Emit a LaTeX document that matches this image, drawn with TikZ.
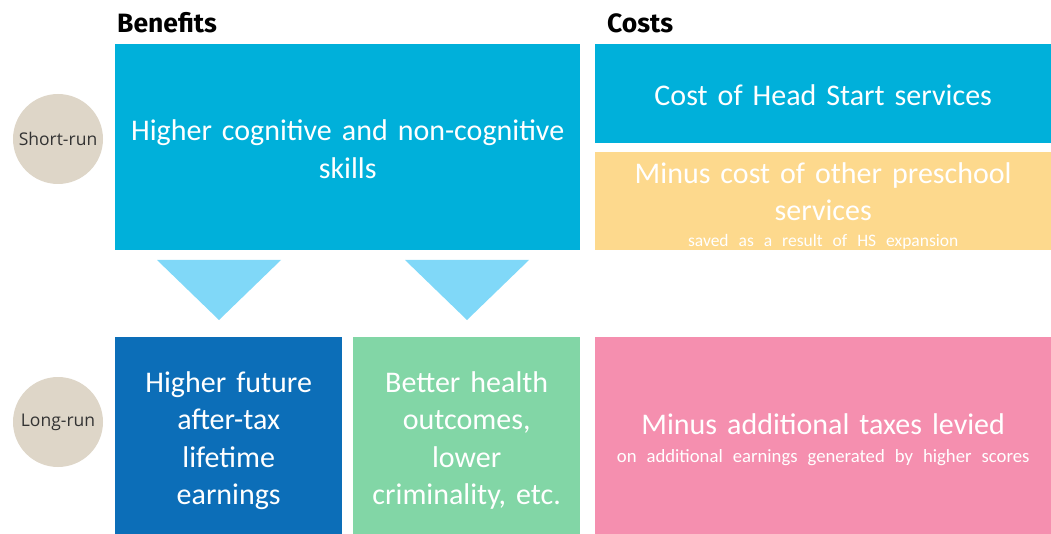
\documentclass[tikz,border=0pt]{standalone}
\usepackage{fontspec}
\setmainfont{Carlito}
\newfontfamily\headfont{Fira Sans}
\newfontfamily\circfont{Open Sans}
\definecolor{cyanbox}{HTML}{00B0DA}
\definecolor{yellowbox}{HTML}{FDD98D}
\definecolor{darkblue}{HTML}{0C6EB8}
\definecolor{greenbox}{HTML}{82D6A6}
\definecolor{pinkbox}{HTML}{F58FAF}
\definecolor{tri}{HTML}{80D8F8}
\definecolor{circ}{HTML}{DED6C8}
\definecolor{circtext}{HTML}{333333}
\tikzset{
  box/.style={anchor=north west, inner sep=0pt},
  boxtext/.style={inner sep=0pt, text=white, align=center,
    font=\fontsize{30}{37.5}\selectfont},
  head/.style={anchor=base west, inner sep=0pt, font=\headfont\bfseries\fontsize{26.5}{30}\selectfont},
  runcirc/.style={circle, fill=circ, minimum size=90pt, inner sep=0pt, text=circtext,
    font=\circfont\fontsize{17.5}{20}\selectfont}
}
\begin{document}
\begin{tikzpicture}[x=1pt,y=-1pt]
\useasboundingbox (0,0) rectangle (1051,534);
\node[head] (hb) at (117,33) {Benefits};
\node[head] (hc) at (607,33) {Costs};

\node[runcirc] (sr) at (58,139) {Short-run};
\node[runcirc] (lr) at (58,422) {Long-run};

\node[box, fill=cyanbox, minimum width=465pt, minimum height=206pt] (sk) at (115,44) {};
\node[boxtext, text width=455pt] (skt) at ([yshift=-2pt]sk.center)
  {Higher cognitive and non-cognitive\\skills};
\node[box, fill=cyanbox, minimum width=456pt, minimum height=99pt] (hs) at (595,44) {};
\node[boxtext, text width=446pt] (hst) at ([yshift=-1pt]hs.center)
  {Cost of Head Start services};
\node[box, fill=yellowbox, minimum width=456pt, minimum height=98pt] (ps) at (595,152) {};
\node[boxtext, text width=446pt] (pst) at ([yshift=-4.5pt]ps.center)
  {Minus cost of other preschool\\services\\[-12pt]{\fontsize{17.5}{20}\selectfont saved as a result of HS expansion}};

\fill[tri] (157,260) -- (281,260) -- (219,320) -- cycle;
\fill[tri] (405,260) -- (529,260) -- (467,320) -- cycle;

\node[box, fill=darkblue, minimum width=227pt, minimum height=197pt] (ea) at (115,337) {};
\node[boxtext, text width=217pt] (eat) at ([yshift=-5pt]ea.center)
  {Higher future\\after-tax\\lifetime\\earnings};
\node[box, fill=greenbox, minimum width=227pt, minimum height=197pt] (he) at (353,337) {};
\node[boxtext, text width=217pt] (het) at ([yshift=-5pt]he.center)
  {Better health\\outcomes,\\lower\\criminality, etc.};
\node[box, fill=pinkbox, minimum width=456pt, minimum height=197pt] (tx) at (595,337) {};
\node[boxtext, text width=446pt] (txt) at ([yshift=-4pt]tx.center)
  {Minus additional taxes levied\\[-10pt]{\fontsize{18.7}{22}\selectfont on additional earnings generated by higher scores}};
\end{tikzpicture}
\end{document}
